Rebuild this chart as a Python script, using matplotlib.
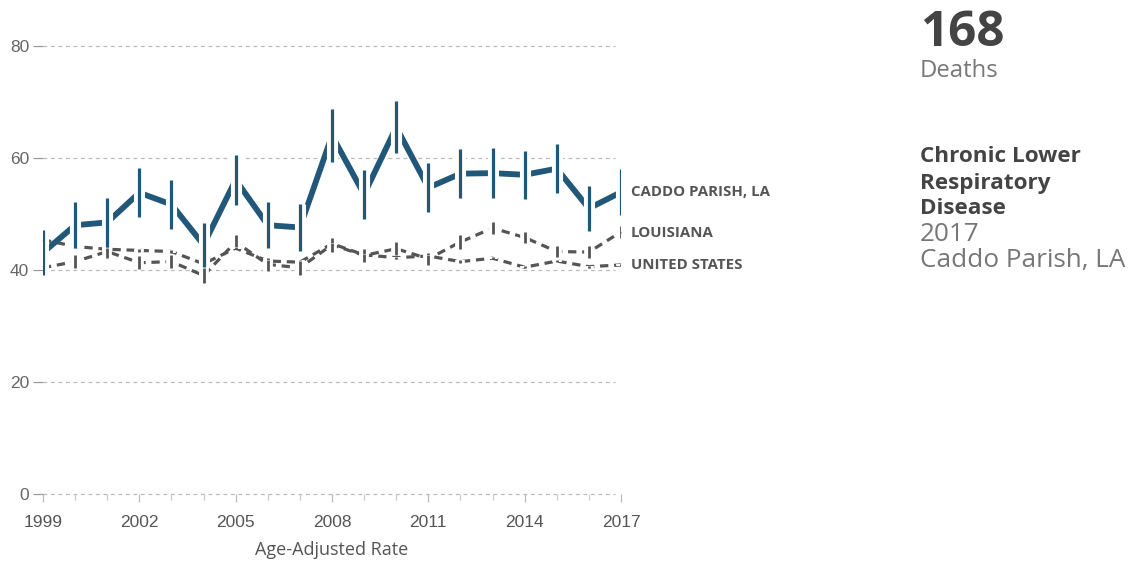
import numpy as np
import matplotlib
matplotlib.use("Agg")
import matplotlib.pyplot as plt
import matplotlib.patheffects as pe

years = list(range(1999, 2018))

# Caddo Parish, LA age-adjusted rate with confidence limits
caddo = [43.1, 48.0, 48.5, 53.8, 51.7, 44.5, 56.1, 48.0, 47.6, 64.0,
         53.5, 65.5, 54.7, 57.2, 57.3, 57.0, 58.1, 51.0, 53.9]
caddo_lo = [39.1, 43.9, 44.1, 49.5, 47.3, 40.5, 51.6, 43.9, 43.4, 59.3,
            49.1, 60.9, 50.4, 52.9, 52.9, 52.7, 53.8, 47.0, 49.8]
caddo_hi = [47.1, 52.1, 52.9, 58.2, 56.1, 48.4, 60.5, 52.1, 51.8, 68.8,
            57.9, 70.2, 59.1, 61.6, 61.8, 61.3, 62.5, 55.0, 58.0]

louisiana = [40.4, 41.5, 43.3, 41.3, 41.5, 39.0, 45.0, 41.0, 40.4, 44.5,
             42.6, 43.8, 42.0, 45.0, 47.5, 45.8, 43.3, 43.2, 46.8]
louisiana_err = [1.1, 1.2, 1.2, 1.2, 1.2, 1.3, 1.3, 1.2, 1.3, 1.2,
                 1.2, 1.2, 1.1, 1.2, 1.0, 1.0, 1.0, 1.0, 1.0]

us = [45.4, 44.2, 43.7, 43.5, 43.3, 41.1, 43.9, 41.6, 41.4, 44.7,
      42.7, 42.2, 42.5, 41.5, 42.1, 40.5, 41.6, 40.6, 40.9]
us_err = [0.2] * 19

blue = "#21587a"
gray = "#555555"

fig = plt.figure(figsize=(11.31, 5.62), dpi=100)
ax = fig.add_axes([43 / 1131, 1 - 494 / 562, (621 - 43) / 1131, (494 - 46) / 562])
ax.set_xlim(1999, 2017)
ax.set_ylim(0, 80)

# dashed gridlines
for v in [0, 20, 40, 60, 80]:
    ax.plot([1999, 2016.8], [v, v], color="#bbbbbb", lw=0.9, ls=(0, (3, 3)),
            zorder=1, clip_on=False)

halo = [pe.Stroke(linewidth=7, foreground="white"), pe.Normal()]

# Louisiana and US
ax.plot(years, louisiana, color=gray, lw=2.3, ls=(0, (2.6, 1.8)), zorder=2,
        clip_on=False)
ax.vlines(years, np.array(louisiana) - np.array(louisiana_err),
          np.array(louisiana) + np.array(louisiana_err),
          color=gray, lw=2.0, zorder=3, path_effects=halo)
ax.plot(years, us, color=gray, lw=2.3, ls=(0, (2.6, 1.8)), zorder=2,
        clip_on=False)
ax.vlines(years, np.array(us) - np.array(us_err), np.array(us) + np.array(us_err),
          color=gray, lw=2.0, zorder=3, path_effects=halo)

# Caddo Parish
ax.plot(years, caddo, color=blue, lw=4.2, zorder=4, solid_capstyle="butt")
ax.vlines(years, caddo_lo, caddo_hi, color=blue, lw=2.3, zorder=5,
          path_effects=[pe.Stroke(linewidth=8, foreground="white"), pe.Normal()])

for s in ax.spines.values():
    s.set_visible(False)

ax.set_yticks([0, 20, 40, 60, 80])
ax.tick_params(axis="y", length=7, width=0.9, color="#999999", pad=3,
               labelsize=12.5, labelcolor="#666666")
for lab in ax.get_yticklabels():
    lab.set_family("Liberation Sans")

ax.set_xticks(range(1999, 2018, 3))
ax.set_xticks(years, minor=True)
ax.tick_params(axis="x", which="major", length=6, width=0.9, color="#bbbbbb",
               pad=9, labelsize=12.5, labelcolor="#555555")
ax.tick_params(axis="x", which="minor", length=4, width=0.9, color="#cccccc")
for lab in ax.get_xticklabels():
    lab.set_family("Liberation Sans")
ax.set_xlabel("Age-Adjusted Rate", family="Open Sans", fontsize=13,
              color="#555555", labelpad=8)

# series labels
lab_kw = dict(family="Open Sans", fontsize=10.8, fontweight="bold", color="#555555",
              va="center", ha="left")
fig.text(631 / 1131, 1 - 192 / 562, "CADDO PARISH, LA", **lab_kw)
fig.text(631 / 1131, 1 - 233 / 562, "LOUISIANA", **lab_kw)
fig.text(631 / 1131, 1 - 265 / 562, "UNITED STATES", **lab_kw)

# side panel
fig.text(920 / 1131, 1 - 33 / 562, "168", family="Open Sans", fontsize=35.5,
         fontweight="bold", color="#444444", va="center", ha="left")
fig.text(920 / 1131, 1 - 71 / 562, "Deaths", family="Open Sans", fontsize=17.2,
         color="#777777", va="center", ha="left")
bold_kw = dict(family="Open Sans", fontsize=16.2, fontweight="bold",
               color="#444444", va="center", ha="left")
fig.text(920 / 1131, 1 - 156 / 562, "Chronic Lower", **bold_kw)
fig.text(920 / 1131, 1 - 183 / 562, "Respiratory", **bold_kw)
fig.text(920 / 1131, 1 - 209 / 562, "Disease", **bold_kw)
reg_kw = dict(family="Open Sans", fontsize=18.8, color="#777777",
              va="center", ha="left")
fig.text(920 / 1131, 1 - 235 / 562, "2017", **reg_kw)
fig.text(920 / 1131, 1 - 261 / 562, "Caddo Parish, LA", **reg_kw)

fig.savefig("out.png", dpi=100)
